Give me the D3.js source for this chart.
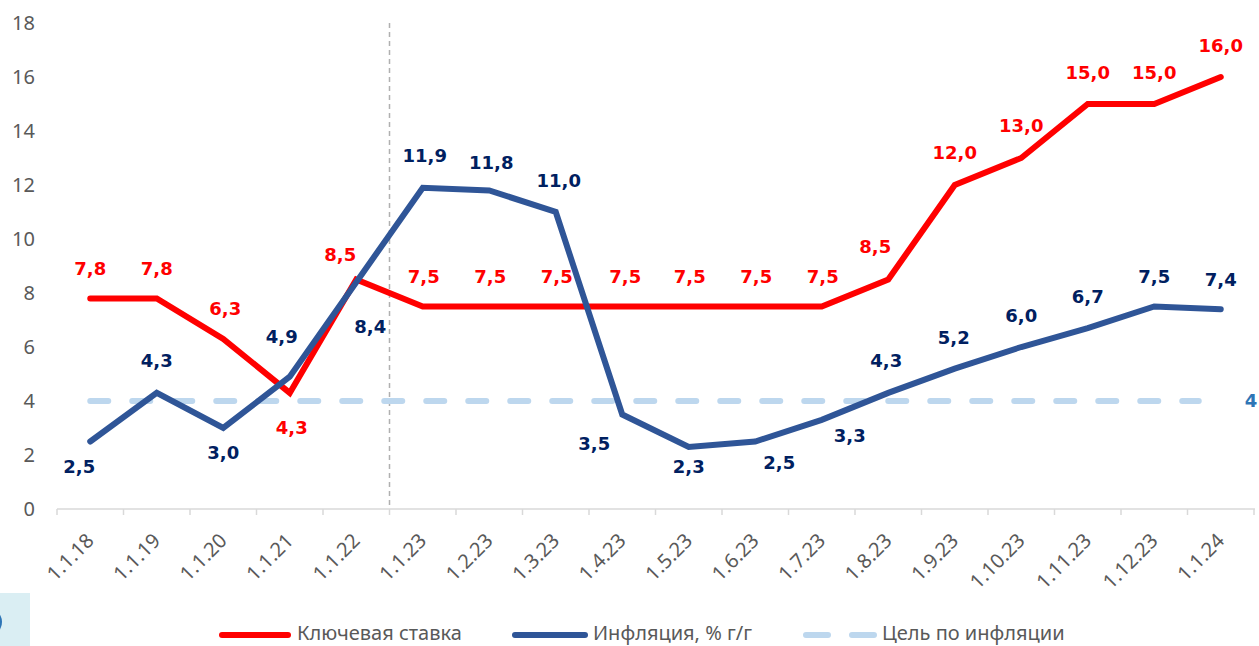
<!DOCTYPE html>
<html><head><meta charset="utf-8">
<script src="https://cdn.jsdelivr.net/npm/d3@7"></script>
<style>body{margin:0;background:#fff}svg{display:block}</style>
</head><body>
<svg id="c" width="1259" height="646"></svg>
<script>
const categories = ["1.1.18","1.1.19","1.1.20","1.1.21","1.1.22","1.1.23","1.2.23","1.3.23","1.4.23","1.5.23","1.6.23","1.7.23","1.8.23","1.9.23","1.10.23","1.11.23","1.12.23","1.1.24"];
const keyRate   = [7.8,7.8,6.3,4.3,8.5,7.5,7.5,7.5,7.5,7.5,7.5,7.5,8.5,12.0,13.0,15.0,15.0,16.0];
const inflation = [2.5,4.3,3.0,4.9,8.4,11.9,11.8,11.0,3.5,2.3,2.5,3.3,4.3,5.2,6.0,6.7,7.5,7.4];
const target = 4;
const yTicks = [0,2,4,6,8,10,12,14,16,18];
const seriesNames = ["Ключевая ставка","Инфляция, % г/г","Цель по инфляции"];
const dividerAfter = "1.1.22";

// label offsets (layout only)
const rateLabelOff = [[0,-30],[0,-30],[2,-30],[2,35],[-16,-25],[1,-30],[1,-30],[1,-30],[3,-30],[1,-30],[1,-30],[1,-30],[-13,-33],[0,-32],[0,-32],[0,-31],[0,-31],[0,-31]];
const inflLabelOff = [[-11,25],[0,-32],[0,25],[-8,-40],[14,44],[2,-32],[2,-28],[3,-31],[-28,29],[0,20],[24,21],[28,16],[-2,-32],[-1,-31],[0,-31],[0,-31],[0,-30],[0,-30]];

const svg = d3.select("#c");
const x = d3.scaleBand().domain(categories).range([57,1254]);
const cx = d => x(d) + x.bandwidth()/2;
const y = d3.scaleLinear().domain([0,18]).range([509,23]);

const fontAxis = "'Noto Sans', 'Open Sans', sans-serif";
const fontLab = "'DejaVu Sans', Verdana, sans-serif";

// y axis labels
svg.append("g").selectAll("text").data(yTicks).join("text")
  .attr("x",35).attr("y",d=>y(d)).attr("dy","0.35em").attr("text-anchor","end")
  .attr("font-family",fontAxis).attr("font-size",20).attr("fill","#595959").text(d=>d);

// x axis
const gx = svg.append("g").attr("transform","translate(0,509)");
gx.append("line").attr("x1",57).attr("x2",1255).attr("y1",0).attr("y2",0).attr("stroke","#d9d9d9").attr("stroke-width",1.5);
const boundaries = categories.map(c=>x(c)).concat([x(categories[categories.length-1])+x.bandwidth()]);
gx.selectAll("line.t").data(boundaries).join("line").attr("class","t")
  .attr("x1",d=>d).attr("x2",d=>d).attr("y1",0).attr("y2",6).attr("stroke","#d9d9d9").attr("stroke-width",1.5);
gx.selectAll("text").data(categories).join("text")
  .attr("transform",d=>`translate(${cx(d)},${28}) rotate(-45)`)
  .attr("text-anchor","end").attr("dy","0.35em")
  .attr("font-family",fontAxis).attr("font-size",20).attr("fill","#595959").text(d=>d);

// divider
const dx = x(dividerAfter)+x.bandwidth();
svg.append("line").attr("x1",dx).attr("x2",dx).attr("y1",y(18)).attr("y2",y(0))
  .attr("stroke","#b0b0b0").attr("stroke-width",1.5).attr("stroke-dasharray","5,4");

// target
svg.append("line").attr("x1",cx(categories[0])).attr("x2",cx(categories[categories.length-1])-22).attr("y1",y(target)).attr("y2",y(target))
  .attr("stroke","#bdd7ee").attr("stroke-width",6).attr("stroke-linecap","round").attr("stroke-dasharray","18,24");
svg.append("text").attr("x",1251).attr("y",y(target)).attr("dy","0.35em").attr("text-anchor","middle")
  .attr("font-family",fontLab).attr("font-weight","bold").attr("font-size",18).attr("fill","#2e75b6").text(target);

const line = d3.line().x((d,i)=>cx(categories[i])).y(d=>y(d));
svg.append("path").datum(keyRate).attr("d",line).attr("fill","none").attr("stroke","#ff0000").attr("stroke-width",6).attr("stroke-linecap","round").attr("stroke-linejoin","miter");
svg.append("path").datum(inflation).attr("d",line).attr("fill","none").attr("stroke","#2f5597").attr("stroke-width",6).attr("stroke-linecap","round").attr("stroke-linejoin","miter");

const fmt = v => v.toFixed(1).replace(".",",");
svg.append("g").selectAll("text").data(keyRate).join("text")
  .attr("x",(d,i)=>cx(categories[i])+rateLabelOff[i][0]).attr("y",(d,i)=>y(d)+rateLabelOff[i][1])
  .attr("dy","0.35em").attr("text-anchor","middle")
  .attr("font-family",fontLab).attr("font-weight","bold").attr("font-size",18).attr("fill","#ff0000").text(fmt);
svg.append("g").selectAll("text").data(inflation).join("text")
  .attr("x",(d,i)=>cx(categories[i])+inflLabelOff[i][0]).attr("y",(d,i)=>y(d)+inflLabelOff[i][1])
  .attr("dy","0.35em").attr("text-anchor","middle")
  .attr("font-family",fontLab).attr("font-weight","bold").attr("font-size",18).attr("fill","#002060").text(fmt);

// legend
const leg = svg.append("g");
const legY = 634;
const legItems = [
  {x1:222,x2:288,tx:297,color:"#ff0000",dash:null},
  {x1:515,x2:585,tx:593,color:"#2f5597",dash:null},
  {x1:806,x2:874,tx:882,color:"#bdd7ee",dash:"22,24"}
];
legItems.forEach((it,i)=>{
  leg.append("line").attr("x1",it.x1).attr("x2",it.x2).attr("y1",legY+1).attr("y2",legY+1)
    .attr("stroke",it.color).attr("stroke-width",6).attr("stroke-linecap","round")
    .attr("stroke-dasharray",it.dash);
  leg.append("text").attr("x",it.tx).attr("y",legY).attr("dy","0.3em")
    .attr("font-family",fontAxis).attr("font-size",20).attr("fill","#595959").text(seriesNames[i]);
});

// corner decoration
svg.append("rect").attr("x",0).attr("y",593).attr("width",30).attr("height",53).attr("fill","#daeef3");
svg.append("ellipse").attr("cx",-3).attr("cy",622).attr("rx",5).attr("ry",9).attr("fill","#2e75b6");
</script>
</body></html>
